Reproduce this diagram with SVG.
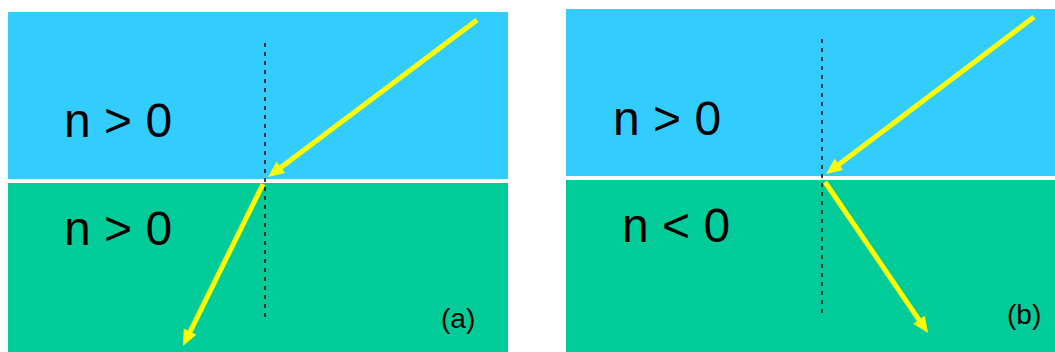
<svg xmlns="http://www.w3.org/2000/svg" width="1055" height="352" viewBox="0 0 1055 352">
<style>
.top{fill:#33CCFF}
.bot{fill:#00CC99}
.lbl{font-family:"Liberation Sans",Arial,sans-serif;font-size:48px;fill:#000}
.tag{font-family:"Liberation Sans",Arial,sans-serif;font-size:28px;fill:#000}
.normal{stroke:#000;stroke-width:1.5;stroke-dasharray:4,5;fill:none}
.ray{stroke:#FFFF00;stroke-width:5;fill:none;marker-end:url(#ah)}
</style>
<defs>
<marker id="ah" markerUnits="userSpaceOnUse" markerWidth="17" markerHeight="15" refX="0" refY="7" orient="auto" overflow="visible">
<path d="M0,0 L16,7 L0,14 z" fill="#FFFF00"/>
</marker>
</defs>
<rect width="1055" height="352" fill="#fff"/>
<g id="panel-a">
<rect class="top" x="8" y="12" width="500" height="167"/>
<rect class="bot" x="8" y="183" width="500" height="169"/>
<text class="lbl" x="64" y="137">n &gt; 0</text>
<text class="lbl" x="64" y="245">n &gt; 0</text>
<text class="tag" x="441" y="328">(a)</text>
</g>
<g id="panel-b">
<rect class="top" x="566" y="9" width="489" height="167"/>
<rect class="bot" x="566" y="180" width="489" height="172"/>
<text class="lbl" x="613" y="135">n &gt; 0</text>
<text class="lbl" x="622" y="242">n &lt; 0</text>
<text class="tag" x="1007" y="324">(b)</text>
</g>
<g id="connectors">
<line class="normal" x1="265" y1="43" x2="265" y2="318"/>
<line class="normal" x1="822" y1="39" x2="822" y2="314"/>
<line class="ray" x1="477" y1="20" x2="280.8" y2="167.4"/>
<line class="ray" x1="263" y1="184" x2="190.1" y2="331.7"/>
<line class="ray" x1="1034" y1="17" x2="838.8" y2="164.4"/>
<line class="ray" x1="825" y1="182" x2="919" y2="319.8"/>
</g>
</svg>
